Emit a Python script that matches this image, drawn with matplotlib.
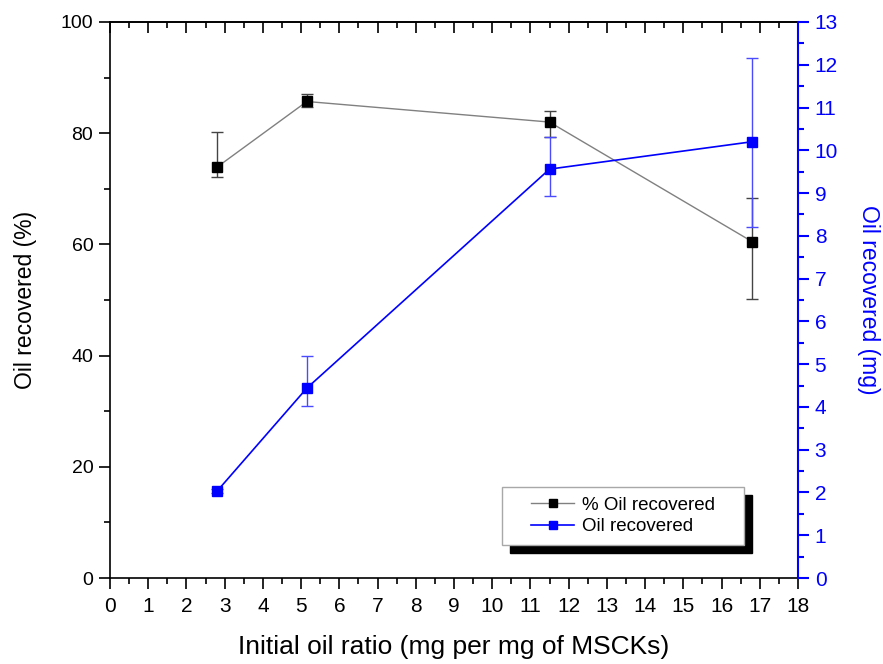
import matplotlib
matplotlib.use("Agg")
import matplotlib.pyplot as plt
from matplotlib.patches import Rectangle
from matplotlib.ticker import MultipleLocator

plt.rcParams["font.family"] = ["Liberation Sans", "DejaVu Sans"]

# ---- data ----
ratio = [2.8, 5.15, 11.5, 16.8]
pct_recovered = [73.9, 85.7, 82.0, 60.5]
pct_err_low = [1.8, 1.0, 2.6, 10.3]
pct_err_high = [6.3, 1.3, 2.0, 7.8]
mg_recovered = [2.03, 4.44, 9.56, 10.20]
mg_err_low = [0.05, 0.43, 0.64, 2.0]
mg_err_high = [0.05, 0.76, 0.75, 1.96]

BLUE = "#0000ff"

fig = plt.figure(figsize=(8.83, 6.64), dpi=100)
ax1 = fig.add_axes([0.1246, 0.1295, 0.7791, 0.8374])
ax2 = ax1.twinx()

# ---- left axis: % recovered ----
ax1.errorbar(ratio, pct_recovered, yerr=[pct_err_low, pct_err_high],
             fmt="none", ecolor="#444444", elinewidth=1.0, capsize=4,
             capthick=1.0, zorder=2)
(line1,) = ax1.plot(ratio, pct_recovered, color="#808080", linewidth=1.0,
                    marker="s", markersize=7.5, markerfacecolor="black",
                    markeredgecolor="black", zorder=3,
                    label="% Oil recovered")

# ---- right axis: mg recovered ----
ax2.errorbar(ratio, mg_recovered, yerr=[mg_err_low, mg_err_high],
             fmt="none", ecolor="#4a4aff", elinewidth=1.0, capsize=4,
             capthick=1.0, zorder=2)
(line2,) = ax2.plot(ratio, mg_recovered, color=BLUE, linewidth=1.2,
                    marker="s", markersize=7.5, markerfacecolor=BLUE,
                    markeredgecolor=BLUE, zorder=3, label="Oil recovered")

# ---- axes limits & ticks ----
ax1.set_xlim(0, 18)
ax1.set_ylim(0, 100)
ax2.set_ylim(0, 13)

ax1.xaxis.set_major_locator(MultipleLocator(1))
ax1.xaxis.set_minor_locator(MultipleLocator(0.5))
ax1.yaxis.set_major_locator(MultipleLocator(20))
ax1.yaxis.set_minor_locator(MultipleLocator(10))
ax2.yaxis.set_major_locator(MultipleLocator(1))
ax2.yaxis.set_minor_locator(MultipleLocator(0.5))

ax1.tick_params(axis="x", which="major", direction="out", length=8,
                width=1.2, labelsize=15, pad=6)
ax1.tick_params(axis="x", which="minor", direction="out", length=4, width=1.2)
ax1.tick_params(axis="y", which="major", direction="out", length=8,
                width=1.2, labelsize=14, pad=4)
ax1.tick_params(axis="y", which="minor", direction="out", length=4, width=1.2)
ax2.tick_params(axis="y", which="major", direction="out", length=8,
                width=1.5, labelsize=15, colors=BLUE, pad=4)
ax2.tick_params(axis="y", which="minor", direction="out", length=4,
                width=1.5, colors=BLUE)

# top spine ticks pointing inward
top = ax1.secondary_xaxis("top")
top.xaxis.set_major_locator(MultipleLocator(1))
top.xaxis.set_minor_locator(MultipleLocator(0.5))
top.tick_params(which="major", direction="in", length=8, width=1.2,
                labeltop=False)
top.tick_params(which="minor", direction="in", length=4, width=1.2)
top.spines["top"].set_linewidth(1.2)

for s in ["left", "bottom", "top"]:
    ax1.spines[s].set_linewidth(1.2)
ax1.spines["right"].set_visible(False)
ax2.spines["right"].set_color(BLUE)
ax2.spines["right"].set_linewidth(1.5)
for s in ["left", "bottom", "top"]:
    ax2.spines[s].set_visible(False)

# ---- labels ----
ax1.set_xlabel("Initial oil ratio (mg per mg of MSCKs)", fontsize=19,
               labelpad=13)
ax1.set_ylabel("Oil recovered (%)", fontsize=16.5, labelpad=17)
ax2.set_ylabel("Oil recovered (mg)", fontsize=16.5, color=BLUE, rotation=270,
               labelpad=30)

# ---- legend: framed box with offset black shadow ----
lx0, lx1 = 0.5698, 0.9215
ly0, ly1 = 0.0594, 0.1637
sdx, sdy = 8 / 688, 8 / 556
ax2.add_patch(Rectangle((lx0 + sdx, ly0 - sdy), lx1 - lx0, ly1 - ly0,
                        transform=ax2.transAxes, facecolor="black",
                        edgecolor="black", clip_on=False, zorder=8))
ax2.add_patch(Rectangle((lx0, ly0), lx1 - lx0, ly1 - ly0,
                        transform=ax2.transAxes, facecolor="white",
                        edgecolor="#a8a8a8", linewidth=1.0, clip_on=False,
                        zorder=9))
leg = ax2.legend([line1, line2], ["% Oil recovered", "Oil recovered"],
                 loc="center", bbox_to_anchor=((lx0 + lx1) / 2,
                                               (ly0 + ly1) / 2),
                 fontsize=13.5, frameon=False, handlelength=2.3,
                 handletextpad=0.4, labelspacing=0.25, borderpad=0,
                 markerscale=0.85, borderaxespad=0)
leg.set_zorder(10)

fig.savefig("out.png", dpi=100, facecolor="white")
